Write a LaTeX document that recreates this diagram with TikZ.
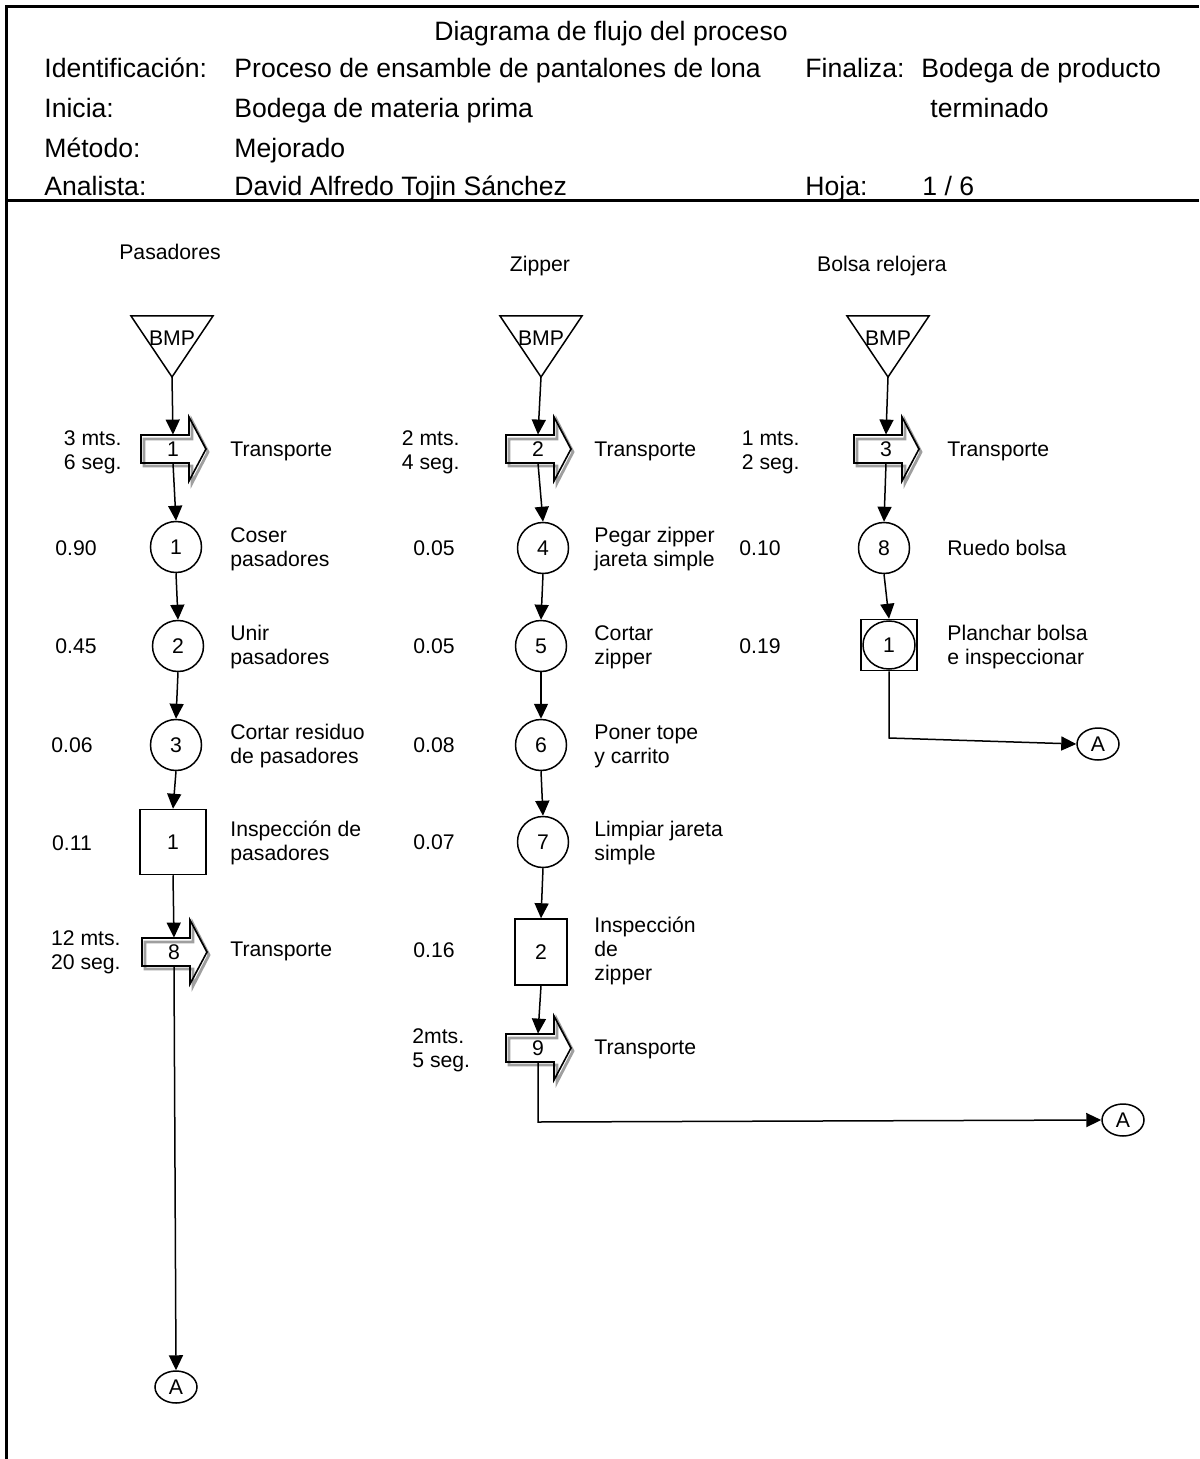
\documentclass[tikz,border=0pt]{standalone}
\usepackage{fontspec}
\setmainfont{Liberation Sans}
\usetikzlibrary{arrows.meta,shapes.geometric,calc}
\newcommand\bmpsym[2]{%
  \node[lbl] (#1) at (#2,338) {BMP};
  \draw[line width=0.75pt] ({#2-41},316) -- ({#2+41},316) -- (#2,377) -- cycle;
  \coordinate (#1-apex) at (#2,377);
}
\newcommand\transpsym[4]{%
  \node[tnum] (#1) at (#2,#3) {#4};
  \begin{scope}[shift={(#1.center)}]
    \draw[line width=1.4pt, gray!75, line join=miter] (-29,-10) -- (19,-10) -- (19,-28) -- (35,3) -- (19,34) -- (19,17) -- (-29,17) -- cycle;
    \draw[line width=0.8pt, line join=miter] (-32,-14) -- (16,-14) -- (16,-32) -- (33,0) -- (16,32) -- (16,14) -- (-32,14) -- cycle;
  \end{scope}
}
\begin{document}
\begin{tikzpicture}[x=0.5pt,y=-0.5pt,
  lbl/.style={inner sep=0pt, font=\fontsize{10.6}{12}\selectfont},
  hdr/.style={inner sep=0pt, anchor=base west, font=\fontsize{13.3}{16}\selectfont},
  op/.style={circle, draw, line width=0.75pt, minimum size=25.5pt, inner sep=0pt, font=\fontsize{10.6}{12}\selectfont},
  insp/.style={rectangle, draw, line width=0.75pt, inner sep=0pt, font=\fontsize{10.6}{12}\selectfont},
  term/.style={ellipse, draw, line width=0.75pt, minimum width=21pt, minimum height=16pt, inner sep=0pt, font=\fontsize{10.6}{12}\selectfont},
  tnum/.style={inner sep=0pt, minimum height=14pt, minimum width=0pt, font=\fontsize{10.6}{12}\selectfont},
  conn/.style={line width=0.75pt, -{Triangle[length=7.5pt,width=7pt]}},
  frame/.style={line width=1.5pt}
]
\useasboundingbox (0,0) rectangle (1199,1459);
% frame
\draw[frame] (6,1459) -- (6,7) -- (1199,7);
\draw[frame] (6,201) -- (1199,201);
% header
\node[hdr, anchor=base] (title) at (611,41) {Diagrama de flujo del proceso};
\node[hdr] (h1a) at (44,78) {Identificación:};
\node[hdr] (h1b) at (234,78) {Proceso de ensamble de pantalones de lona};
\node[hdr] (h1c) at (805,78) {Finaliza:};
\node[hdr] (h1d) at (921,78) {Bodega de producto};
\node[hdr] (h2a) at (44,118) {Inicia:};
\node[hdr] (h2b) at (234,118) {Bodega de materia prima};
\node[hdr] (h2d) at (930,118) {terminado};
\node[hdr] (h3a) at (44,158) {Método:};
\node[hdr] (h3b) at (234,158) {Mejorado};
\node[hdr] (h4a) at (44,196) {Analista:};
\node[hdr] (h4b) at (234,196) {David Alfredo Tojin Sánchez};
\node[hdr] (h4c) at (805,196) {Hoja:};
\node[hdr] (h4d) at (922,196) {1 / 6};
% section titles
\node[lbl] (s1) at (170,252) {Pasadores};
\node[lbl] (s2) at (540,266) {Zipper};
\node[lbl] (s3) at (882,266) {Bolsa relojera};
% ---------- column 1 ----------
\bmpsym{B1}{172}
\transpsym{T1}{173}{449}{1}
\node[op] (O1) at (176,547) {1};
\node[op] (O2) at (178,646) {2};
\node[op] (O3) at (176,745) {3};
\node[insp, minimum width=33pt, minimum height=32.5pt] (I1) at (173,842) {1};
\transpsym{T8}{174}{952}{8}
\node[term] (A1) at (176,1387) {A};
\node[lbl, align=right, anchor=east] (d1) at (122,452) {3 mts.\\6 seg.};
\node[lbl] (t1) at (76,548) {0.90};
\node[lbl] (t2) at (76,646) {0.45};
\node[lbl] (t3) at (72,745) {0.06};
\node[lbl] (t4) at (72,843) {0.11};
\node[lbl, align=right, anchor=east] (d8) at (121,952) {12 mts.\\20 seg.};
\node[lbl, anchor=west] (l1) at (230,451) {Transporte};
\node[lbl, anchor=west, align=left] (l2) at (230,549) {Coser\\pasadores};
\node[lbl, anchor=west, align=left] (l3) at (230,647) {Unir\\pasadores};
\node[lbl, anchor=west, align=left] (l4) at (230,746) {Cortar residuo\\de pasadores};
\node[lbl, anchor=west, align=left] (l5) at (230,843) {Inspección de\\pasadores};
\node[lbl, anchor=west] (l6) at (230,951) {Transporte};
\draw[conn] (B1-apex) -- (T1.north);
\draw[conn] (T1.south) -- (O1.north);
\draw[conn] (O1.south) -- (O2.north);
\draw[conn] (O2.south) -- (O3.north);
\draw[conn] (O3.south) -- (I1.north);
\draw[conn] (I1.south) -- (T8.north);
\draw[conn] (T8.south) -- (A1.north);
% ---------- column 2 ----------
\bmpsym{B2}{541}
\transpsym{T2}{538}{449}{2}
\node[op] (O4) at (543,548) {4};
\node[op] (O5) at (541,646) {5};
\node[op] (O6) at (541,745) {6};
\node[op] (O7) at (543,842) {7};
\node[insp, minimum width=26pt, minimum height=33pt] (I2) at (541,952) {2};
\transpsym{T9}{538}{1048}{9}
\node[term] (A2) at (1123,1120) {A};
\coordinate (y2) at (0,1122);
\coordinate (k2) at (T9.south |- y2);
\node[lbl, align=right, anchor=east] (d2) at (460,452) {2 mts.\\4 seg.};
\node[lbl] (u1) at (434,548) {0.05};
\node[lbl] (u2) at (434,646) {0.05};
\node[lbl] (u3) at (434,745) {0.08};
\node[lbl] (u4) at (434,842) {0.07};
\node[lbl] (u5) at (434,950) {0.16};
\node[lbl, align=left, anchor=west] (d9) at (412,1050) {2mts.\\5 seg.};
\node[lbl, anchor=west] (m1) at (594,451) {Transporte};
\node[lbl, anchor=west, align=left] (m2) at (594,549) {Pegar zipper\\jareta simple};
\node[lbl, anchor=west, align=left] (m3) at (594,647) {Cortar\\zipper};
\node[lbl, anchor=west, align=left] (m4) at (594,746) {Poner tope\\y carrito};
\node[lbl, anchor=west, align=left] (m5) at (594,843) {Limpiar jareta\\simple};
\node[lbl, anchor=west, align=left] (m6) at (594,951) {Inspección\\de\\zipper};
\node[lbl, anchor=west] (m7) at (594,1049) {Transporte};
\draw[conn] (B2-apex) -- (T2.north);
\draw[conn] (T2.south) -- (O4.north);
\draw[conn] (O4.south) -- (O5.north);
\draw[conn] (O5.south) -- (O6.north);
\draw[conn] (O6.south) -- (O7.north);
\draw[conn] (O7.south) -- (I2.north);
\draw[conn] (I2.south) -- (T9.north);
\draw[conn] (T9.south) -- (k2) -- (A2.west);
% ---------- column 3 ----------
\bmpsym{B3}{888}
\transpsym{T3}{886}{449}{3}
\node[op] (O8) at (884,548) {8};
\node[insp, minimum width=28pt, minimum height=25.5pt] (C1) at (889,645) {};
\node[op, minimum width=26pt, minimum height=24pt, ellipse] (C1c) at (C1.center) {1};
\node[term] (A3) at (1098,744) {A};
\coordinate (y3) at (0,738);
\coordinate (k3) at (C1.south |- y3);
\node[lbl, align=right, anchor=east] (d3) at (800,452) {1 mts.\\2 seg.};
\node[lbl] (v1) at (760,548) {0.10};
\node[lbl] (v2) at (760,646) {0.19};
\node[lbl, anchor=west] (n1) at (947,451) {Transporte};
\node[lbl, anchor=west] (n2) at (947,548) {Ruedo bolsa};
\node[lbl, anchor=west, align=left] (n3) at (947,647) {Planchar bolsa\\e inspeccionar};
\draw[conn] (B3-apex) -- (T3.north);
\draw[conn] (T3.south) -- (O8.north);
\draw[conn] (O8.south) -- (C1.north);
\draw[conn] (C1.south) -- (k3) -- (A3.west);
\end{tikzpicture}
\end{document}
